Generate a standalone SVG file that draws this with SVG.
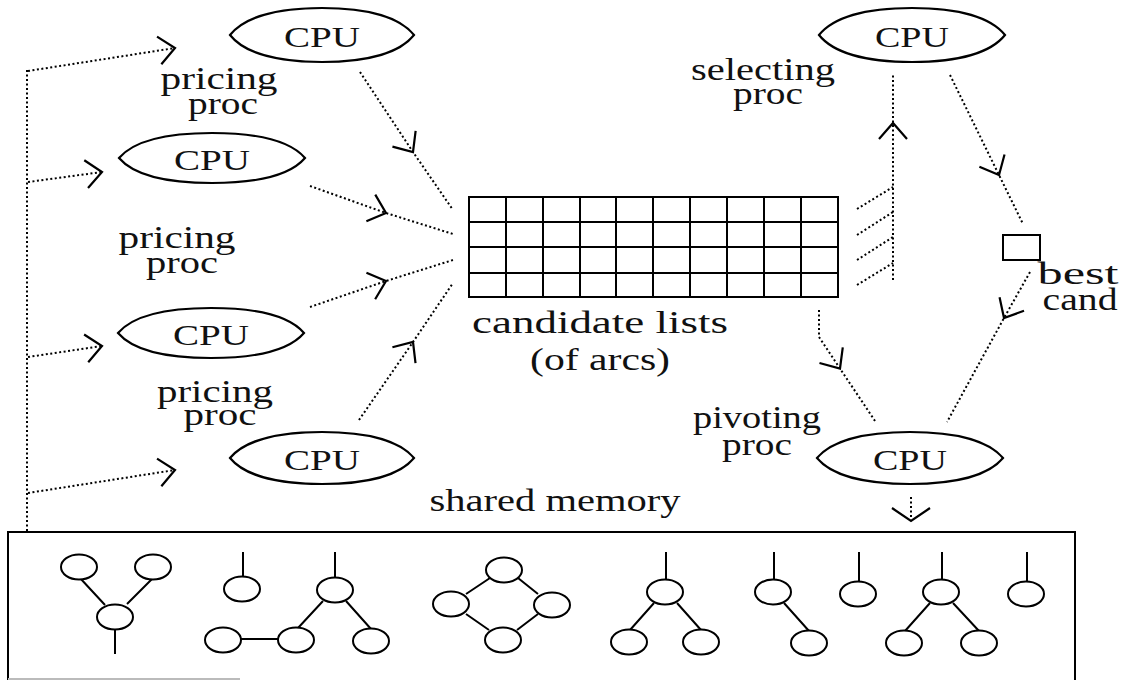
<svg xmlns="http://www.w3.org/2000/svg" width="1128" height="680" viewBox="0 0 1128 680">
<style>
.dot{fill:none;stroke:#000;stroke-width:2;stroke-dasharray:2 2.5}
.ln{fill:none;stroke:#000;stroke-width:2}
.cpu{fill:#fff;stroke:#000;stroke-width:2.2}
.t{font-family:"Liberation Serif","Times New Roman",serif;font-size:32px;fill:#111;text-anchor:middle}
.c{font-family:"Liberation Serif","Times New Roman",serif;font-size:30px;fill:#111;text-anchor:middle}
.m{fill:#fff;stroke:#000;stroke-width:2}
.ah{fill:none;stroke:#000;stroke-width:2.2}
</style>
<defs>
<marker id="v" markerUnits="userSpaceOnUse" markerWidth="40" markerHeight="40" viewBox="-20 -20 40 40" refX="0" refY="0" orient="auto">
<path d="M-16,-14 L0,0 L-16,14" fill="none" stroke="#000" stroke-width="2.2"/>
</marker>
</defs>

<g id="connectors">
<path class="dot" d="M27,70 V532"/>
<path class="dot" d="M28,71 L175,48" marker-end="url(#v)"/>
<path class="dot" d="M28,182 L102,172" marker-end="url(#v)"/>
<path class="dot" d="M28,357 L102,346" marker-end="url(#v)"/>
<path class="dot" d="M28,493 L175,470" marker-end="url(#v)"/>
<polyline class="dot" points="360,72 413,152 453,210" marker-mid="url(#v)"/>
<polyline class="dot" points="310,186 386,213 453,234" marker-mid="url(#v)"/>
<polyline class="dot" points="310,307 386,281 453,260" marker-mid="url(#v)"/>
<polyline class="dot" points="359,420 413,342 453,283" marker-mid="url(#v)"/>
<polyline class="dot" points="893,280 893,123 893,73" marker-mid="url(#v)"/>
<path class="dot" d="M857,209 L893,187 M857,235 L893,212 M857,260 L893,237 M857,285 L893,263"/>
<polyline class="dot" points="950,75 999,175 1023,224" marker-mid="url(#v)"/>
<polyline class="dot" points="1030,272 1004,318 947,422" marker-mid="url(#v)"/>
<path class="dot" d="M819,310 V337"/>
<polyline class="dot" points="819,337 840,368.5 875,421" marker-mid="url(#v)"/>
<path class="dot" d="M911,497 V519"/>
<path class="ah" d="M892,508 L911,521 L930,508"/>
</g>

<g id="cpu-pricing-1">
<path class="cpu" d="M230,35 C243.8,17.45 276,8 322,8 C368,8 400.2,17.45 414,35 C400.2,52.55 368,62 322,62 C276,62 243.8,52.55 230,35Z"/>
<text class="c" x="322" y="47" textLength="76" lengthAdjust="spacingAndGlyphs">CPU</text>
<text class="t" x="219" y="89" textLength="117" lengthAdjust="spacingAndGlyphs">pricing</text>
<text class="t" x="223" y="114" textLength="70" lengthAdjust="spacingAndGlyphs">proc</text>
</g>
<g id="cpu-pricing-2">
<path class="cpu" d="M119,158 C132.95,141.75 165.5,133 212,133 C258.5,133 291.05,141.75 305,158 C291.05,174.25 258.5,183 212,183 C165.5,183 132.95,174.25 119,158Z"/>
<text class="c" x="212" y="170" textLength="76" lengthAdjust="spacingAndGlyphs">CPU</text>
<text class="t" x="177" y="248" textLength="117" lengthAdjust="spacingAndGlyphs">pricing</text>
<text class="t" x="182" y="273" textLength="72" lengthAdjust="spacingAndGlyphs">proc</text>
</g>
<g id="cpu-pricing-3">
<path class="cpu" d="M118,333 C131.95,316.75 164.5,308 211,308 C257.5,308 290.05,316.75 304,333 C290.05,349.25 257.5,358 211,358 C164.5,358 131.95,349.25 118,333Z"/>
<text class="c" x="211" y="345" textLength="76" lengthAdjust="spacingAndGlyphs">CPU</text>
<text class="t" x="215" y="402" textLength="116" lengthAdjust="spacingAndGlyphs">pricing</text>
<text class="t" x="220" y="425" textLength="73" lengthAdjust="spacingAndGlyphs">proc</text>
</g>
<g id="cpu-pricing-4">
<path class="cpu" d="M230,458 C243.8,441.1 276,432 322,432 C368,432 400.2,441.1 414,458 C400.2,474.9 368,484 322,484 C276,484 243.8,474.9 230,458Z"/>
<text class="c" x="322" y="470" textLength="76" lengthAdjust="spacingAndGlyphs">CPU</text>
</g>
<g id="cpu-selecting">
<path class="cpu" d="M819,35 C832.95,17.45 865.5,8 912,8 C958.5,8 991.05,17.45 1005,35 C991.05,52.55 958.5,62 912,62 C865.5,62 832.95,52.55 819,35Z"/>
<text class="c" x="912" y="47" textLength="74" lengthAdjust="spacingAndGlyphs">CPU</text>
<text class="t" x="763" y="80" textLength="144" lengthAdjust="spacingAndGlyphs">selecting</text>
<text class="t" x="768" y="104" textLength="70" lengthAdjust="spacingAndGlyphs">proc</text>
</g>
<g id="cpu-pivoting">
<path class="cpu" d="M817,458 C830.95,441.1 863.5,432 910,432 C956.5,432 989.05,441.1 1003,458 C989.05,474.9 956.5,484 910,484 C863.5,484 830.95,474.9 817,458Z"/>
<text class="c" x="910" y="470" textLength="74" lengthAdjust="spacingAndGlyphs">CPU</text>
<text class="t" x="757" y="428" textLength="128" lengthAdjust="spacingAndGlyphs">pivoting</text>
<text class="t" x="757" y="455" textLength="70" lengthAdjust="spacingAndGlyphs">proc</text>
</g>
<g id="best-cand">
<rect class="ln" x="1003" y="235" width="37" height="25"/>
<text class="t" x="1078" y="284" textLength="81" lengthAdjust="spacingAndGlyphs">best</text>
<text class="t" x="1080" y="310" textLength="75" lengthAdjust="spacingAndGlyphs">cand</text>
</g>
<g id="candidate-lists">
<rect class="ln" x="469" y="197" width="369" height="100"/>
<path class="ln" d="M469,222 H838 M469,247 H838 M469,273 H838 M506,197 V297 M543,197 V297 M580,197 V297 M616,197 V297 M653,197 V297 M690,197 V297 M727,197 V297 M764,197 V297 M801,197 V297"/>
<text class="t" x="600" y="333" textLength="256" lengthAdjust="spacingAndGlyphs">candidate lists</text>
<text class="t" x="600" y="370" textLength="140" lengthAdjust="spacingAndGlyphs">(of arcs)</text>
</g>
<g id="shared-memory">
<text class="t" x="555" y="511" textLength="251" lengthAdjust="spacingAndGlyphs">shared memory</text>
<path class="ln" d="M8,680 V532 H1075 V680"/>
<path d="M8,679 H240" stroke="#bbb" stroke-width="2"/>
<g class="ln">
<path d="M80,578 L105,605 M152,579 L127,604 M115,629 V654"/>
<path d="M243,552 V577"/>
<path d="M335,552 V578 M323,601 L298,628 M346,601 L371,629 M241,639 H278"/>
<path d="M490,578 L466,594 M518,578 L538,594 M466,614 L489,630 M538,614 L517,630"/>
<path d="M666,552 V580 M654,603 L630,630 M677,603 L701,630"/>
<path d="M774,552 V580 M784,603 L809,631"/>
<path d="M859,552 V582"/>
<path d="M942,552 V580 M930,603 L905,631 M953,603 L979,631"/>
<path d="M1027,552 V582"/>
</g>
<ellipse class="m" cx="79" cy="567" rx="18" ry="12.5"/>
<ellipse class="m" cx="153" cy="567" rx="18" ry="12.5"/>
<ellipse class="m" cx="115" cy="617" rx="18" ry="12.5"/>
<ellipse class="m" cx="242" cy="589" rx="18" ry="12.5"/>
<ellipse class="m" cx="335" cy="590" rx="18" ry="12.5"/>
<ellipse class="m" cx="223" cy="640" rx="18" ry="12.5"/>
<ellipse class="m" cx="296" cy="640" rx="18" ry="12.5"/>
<ellipse class="m" cx="371" cy="641" rx="18" ry="12.5"/>
<ellipse class="m" cx="504" cy="570" rx="18" ry="12.5"/>
<ellipse class="m" cx="451" cy="604" rx="18" ry="12.5"/>
<ellipse class="m" cx="552" cy="605" rx="18" ry="12.5"/>
<ellipse class="m" cx="503" cy="640" rx="18" ry="12.5"/>
<ellipse class="m" cx="665" cy="592" rx="18" ry="12.5"/>
<ellipse class="m" cx="629" cy="642" rx="18" ry="12.5"/>
<ellipse class="m" cx="701" cy="642" rx="18" ry="12.5"/>
<ellipse class="m" cx="773" cy="592" rx="18" ry="12.5"/>
<ellipse class="m" cx="809" cy="643" rx="18" ry="12.5"/>
<ellipse class="m" cx="858" cy="594" rx="18" ry="12.5"/>
<ellipse class="m" cx="941" cy="592" rx="18" ry="12.5"/>
<ellipse class="m" cx="904" cy="643" rx="18" ry="12.5"/>
<ellipse class="m" cx="979" cy="643" rx="18" ry="12.5"/>
<ellipse class="m" cx="1026" cy="594" rx="18" ry="12.5"/>
</g>
</svg>
